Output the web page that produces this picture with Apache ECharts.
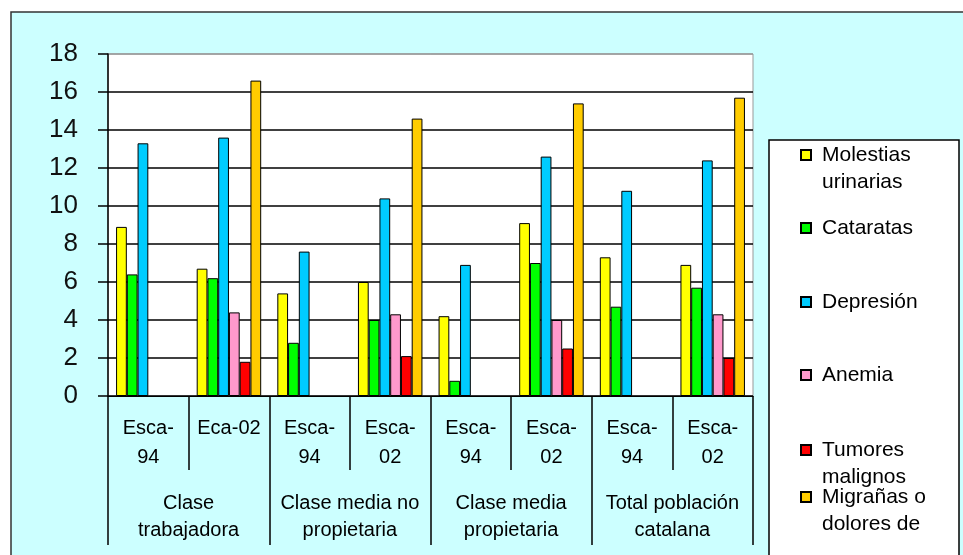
<!DOCTYPE html>
<html>
<head>
<meta charset="utf-8">
<script src="https://cdn.jsdelivr.net/npm/echarts@6/dist/echarts.min.js"></script>
<style>html,body{margin:0;padding:0;background:#fff;}#c{width:963px;height:555px;}</style>
</head>
<body>
<div id="c"></div>
<script>
// ---- data ----
const subCategories = ['Esca-\n94', 'Eca-02', 'Esca-\n94', 'Esca-\n02', 'Esca-\n94', 'Esca-\n02', 'Esca-\n94', 'Esca-\n02'];
const groupCategories = ['Clase\ntrabajadora', 'Clase media no\npropietaria', 'Clase media\npropietaria', 'Total población\ncatalana'];
const seriesNames = ['Molestias urinarias', 'Cataratas', 'Depresión', 'Anemia', 'Tumores malignos', 'Migrañas o dolores de cabeza'];
const legendLabels = ['Molestias\nurinarias', 'Cataratas', 'Depresión', 'Anemia', 'Tumores\nmalignos', 'Migrañas o\ndolores de'];
const molestias = [8.9, 6.7, 5.4, 6.0, 4.2, 9.1, 7.3, 6.9];
const cataratas = [6.4, 6.2, 2.8, 4.0, 0.8, 7.0, 4.7, 5.7];
const depresion = [13.3, 13.6, 7.6, 10.4, 6.9, 12.6, 10.8, 12.4];
const anemia = [null, 4.4, null, 4.3, null, 4.0, null, 4.3];
const tumores = [null, 1.8, null, 2.1, null, 2.5, null, 2.0];
const migranas = [null, 16.6, null, 14.6, null, 15.4, null, 15.7];
const yTicks = [0, 2, 4, 6, 8, 10, 12, 14, 16, 18];

const seriesValues = [molestias, cataratas, depresion, anemia, tumores, migranas];
const colors = ['#FFFF00', '#00FF00', '#00CCFF', '#FF99CC', '#FF0000', '#FFCC00'];
const FONT = 'Liberation Sans, Arial, sans-serif';

const LH = 27;
const legendCenters = [155, 228, 302, 375, 450, 497];
const legends = seriesNames.map((n, i) => {
  const lines = legendLabels[i].split('\n').length;
  // prepend blank lines so the first text line sits level with the marker
  const txt = '\n'.repeat(lines - 1) + legendLabels[i];
  const H = (2 * lines - 1) * LH;
  return {
    data: [n],
    left: 800,
    top: legendCenters[i] - H / 2,
    orient: 'vertical',
    padding: 0,
    itemWidth: 10,
    itemHeight: 10,
    icon: 'rect',
    selectedMode: false,
    formatter: () => txt,
    textStyle: { fontFamily: FONT, fontSize: 21, lineHeight: LH, color: '#000', padding: [0, 0, 0, 6] }
  };
});

const chart = echarts.init(document.getElementById('c'));
chart.setOption({
  backgroundColor: '#ffffff',
  animation: false,
  color: colors,
  graphic: [
    { type: 'rect', z: -5, shape: { x: 11, y: 12, width: 1000, height: 600 }, style: { fill: '#CCFFFF', stroke: '#333', lineWidth: 1.5 } },
    { type: 'rect', z: 1, shape: { x: 769, y: 140, width: 190, height: 440 }, style: { fill: '#ffffff', stroke: '#000', lineWidth: 1.5 } }
  ],
  grid: { left: 108, right: 210, top: 54, bottom: 159, show: true, backgroundColor: '#ffffff', borderColor: '#999', borderWidth: 1, z: 0 },
  legend: legends,
  xAxis: [
    {
      type: 'category', data: subCategories, position: 'bottom',
      axisLine: { show: true, lineStyle: { color: '#000', width: 1 } },
      axisTick: { show: true, length: 74, alignWithLabel: false, interval: 0, lineStyle: { color: '#000', width: 1.5 } },
      axisLabel: { interval: 0, fontFamily: FONT, fontSize: 20, lineHeight: 29, margin: 18, color: '#000' },
      splitLine: { show: false }
    },
    {
      type: 'category', data: groupCategories, position: 'bottom', offset: 0,
      axisLine: { show: false },
      axisTick: { show: true, length: 149, alignWithLabel: false, interval: 0, lineStyle: { color: '#000', width: 1.5 } },
      axisLabel: { interval: 0, fontFamily: FONT, fontSize: 20, lineHeight: 27, margin: 94, color: '#000' },
      splitLine: { show: false }
    }
  ],
  yAxis: {
    type: 'value', min: yTicks[0], max: yTicks[yTicks.length - 1], interval: 2,
    axisLine: { show: true, lineStyle: { color: '#000', width: 1.5 } },
    axisTick: { show: true, length: 10, lineStyle: { color: '#000', width: 1.5 } },
    axisLabel: { fontFamily: FONT, fontSize: 26, color: '#111', margin: 30 },
    splitLine: { show: true, lineStyle: { color: ['#000', '#000', '#000', '#000', '#000', '#000', '#000', '#000', '#000', '#999'], width: 1.5 } }
  },
  series: seriesNames.map((n, i) => ({
    name: n, type: 'bar', xAxisIndex: 0, data: seriesValues[i],
    barGap: '0%', barCategoryGap: '20%',
    itemStyle: { color: colors[i], borderColor: '#000', borderWidth: 1 }
  }))
});
</script>
</body>
</html>
